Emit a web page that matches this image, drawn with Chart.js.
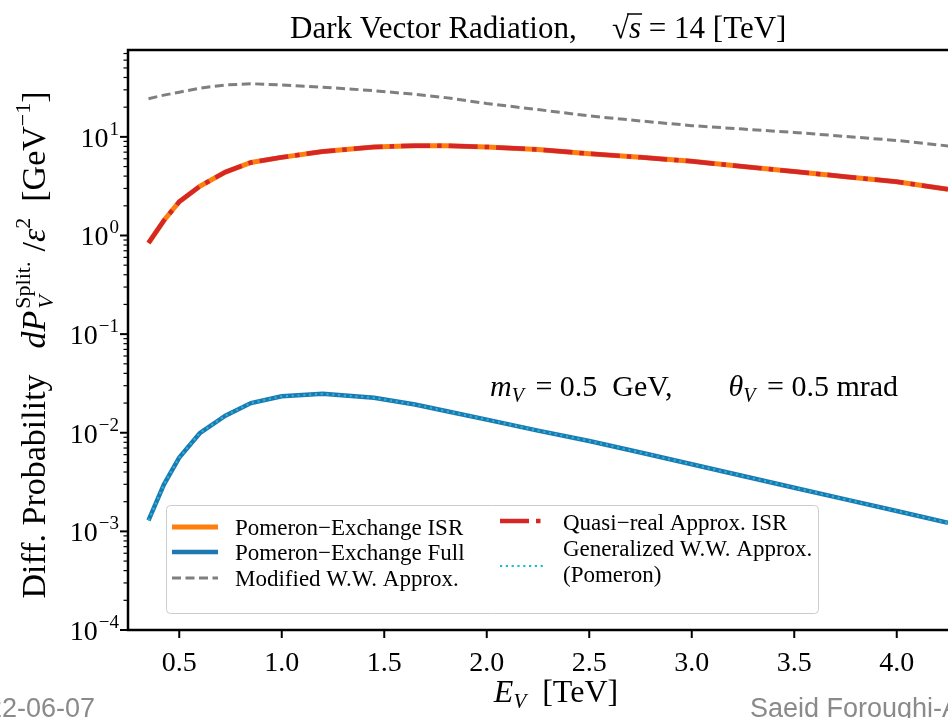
<!DOCTYPE html>
<html lang="en">
<head>
<meta charset="UTF-8">
<title>Dark Vector Radiation</title>
<script src="https://cdn.jsdelivr.net/npm/chart.js"></script>
<style>
  html, body { margin: 0; padding: 0; background: #fff; overflow: hidden; }
  #chart { display: block; }
</style>
</head>
<body>
<canvas id="chart" width="948" height="718"></canvas>
<script>
// E_V [TeV] where the curves have their vertices
const energies = [0.35, 0.425, 0.5, 0.6, 0.725, 0.85, 1.0, 1.2, 1.45, 1.65, 1.8, 2.0, 2.25, 2.5, 2.75, 3.0, 3.25, 3.5, 3.75, 4.0, 4.25];

// dP/eps^2 [GeV^-1]
const pomeronISR    = [0.84, 1.42, 2.2, 3.15, 4.4, 5.5, 6.2, 7.1, 7.9, 8.15, 8.15, 7.9, 7.45, 6.75, 6.2, 5.65, 5.0, 4.45, 3.95, 3.5, 2.95];
const quasiRealISR  = [0.84, 1.42, 2.2, 3.15, 4.4, 5.5, 6.2, 7.1, 7.9, 8.15, 8.15, 7.9, 7.45, 6.75, 6.2, 5.65, 5.0, 4.45, 3.95, 3.5, 2.95];
const pomeronFull   = [0.00129, 0.00298, 0.0056, 0.0099, 0.0149, 0.0200, 0.0234, 0.0248, 0.0226, 0.0193, 0.0166, 0.0136, 0.0105, 0.00826, 0.0063, 0.00479, 0.00364, 0.00277, 0.00211, 0.00161, 0.00122];
const generalizedWW = [0.00129, 0.00298, 0.0056, 0.0099, 0.0149, 0.0200, 0.0234, 0.0248, 0.0226, 0.0193, 0.0166, 0.0136, 0.0105, 0.00826, 0.0063, 0.00479, 0.00364, 0.00277, 0.00211, 0.00161, 0.00122];
const modifiedWW    = [24.4, 26.5, 28.4, 31.2, 33.6, 34.6, 33.6, 31.9, 29.4, 27.0, 25.0, 21.8, 18.9, 16.3, 14.5, 13.0, 12.0, 11.1, 10.1, 9.2, 8.1];

const xTicks = [0.5, 1.0, 1.5, 2.0, 2.5, 3.0, 3.5, 4.0];
const yExponents = [-4, -3, -2, -1, 0, 1];

const SERIF = "'Liberation Serif', 'DejaVu Serif', serif";
const SANS = "'Liberation Sans', Arial, sans-serif";

function pts(arr) {
  return energies.map((e, i) => ({ x: e, y: arr[i] }));
}

function runFont(r) {
  return (r.it ? 'italic ' : '') + r.s + 'px ' + SERIF;
}

// draws a row of text pieces (for sub/superscripts)
function drawRuns(ctx, runs, x, y, align) {
  let total = 0;
  runs.forEach(r => {
    ctx.font = runFont(r);
    r.w = ctx.measureText(r.t).width;
    total += (r.gap || 0) + (r.noAdv ? 0 : r.w);
  });
  let cx = align === 'center' ? x - total / 2 : align === 'right' ? x - total : x;
  ctx.textAlign = 'left';
  ctx.textBaseline = 'alphabetic';
  runs.forEach(r => {
    cx += r.gap || 0;
    ctx.font = runFont(r);
    ctx.fillText(r.t, cx, y + (r.dy || 0));
    if (r.over) {
      ctx.save();
      ctx.lineWidth = 1.5;
      ctx.beginPath();
      ctx.moveTo(cx - 2, y - r.over);
      ctx.lineTo(cx + r.w + 1, y - r.over);
      ctx.stroke();
      ctx.restore();
    }
    if (!r.noAdv) cx += r.w;
  });
}

const decor = {
  id: 'decor',
  afterDatasetsDraw(chart) {
    const ctx = chart.ctx;
    const xs = chart.scales.x, ys = chart.scales.y;
    const a = chart.chartArea;
    ctx.save();
    ctx.fillStyle = '#000';
    ctx.strokeStyle = '#000';

    // spines (left, top, bottom)
    ctx.lineWidth = 2.5;
    ctx.lineCap = 'square';
    ctx.beginPath();
    ctx.moveTo(a.right + 5, a.top);
    ctx.lineTo(a.left, a.top);
    ctx.lineTo(a.left, a.bottom);
    ctx.lineTo(a.right + 5, a.bottom);
    ctx.stroke();
    ctx.lineCap = 'butt';

    // y ticks: decades and minors
    yExponents.forEach(p => {
      for (let k = 1; k <= 9; k++) {
        const v = k * Math.pow(10, p);
        if (v > ys.max) break;
        const py = ys.getPixelForValue(v);
        ctx.lineWidth = k === 1 ? 2 : 1.2;
        ctx.beginPath();
        ctx.moveTo(a.left - (k === 1 ? 8 : 4.5), py);
        ctx.lineTo(a.left, py);
        ctx.stroke();
      }
      const py = ys.getPixelForValue(Math.pow(10, p));
      const ex = p < 0 ? '\u2212' + (-p) : String(p);
      drawRuns(ctx, [{ t: '10', s: 28 }, { t: ex, s: 19, dy: -12, gap: 1 }], 119, py + 10, 'right');
    });

    // x ticks
    xTicks.forEach(v => {
      const px = xs.getPixelForValue(v);
      ctx.lineWidth = 2;
      ctx.beginPath();
      ctx.moveTo(px, a.bottom);
      ctx.lineTo(px, a.bottom + 8);
      ctx.stroke();
      ctx.font = '28px ' + SERIF;
      ctx.textAlign = 'center';
      ctx.fillText(v.toFixed(1), px, 671);
    });

    // title
    drawRuns(ctx, [{ t: 'Dark Vector Radiation,', s: 31 }], 290, 38, 'left');
    drawRuns(ctx, [{ t: '\u221A', s: 31 }, { t: 's', s: 31, it: true, over: 24 }, { t: ' = 14 [TeV]', s: 31 }], 612, 38, 'left');

    // x-axis title
    drawRuns(ctx, [{ t: 'E', s: 32, it: true }, { t: 'V', s: 21, it: true, dy: 6 }, { t: '[TeV]', s: 32, gap: 16 }], 556, 702, 'center');

    // y-axis title
    ctx.save();
    ctx.translate(45, 345);
    ctx.rotate(-Math.PI / 2);
    drawRuns(ctx, [
      { t: 'Diff. Probability', s: 34 },
      { t: 'd', s: 34, it: true, gap: 26 },
      { t: 'P', s: 34, it: true },
      { t: 'V', s: 22, it: true, dy: 8, noAdv: true, gap: 2 },
      { t: 'Split.', s: 22, dy: -15 },
      { t: '/', s: 34, gap: 10 },
      { t: '\u03B5', s: 34, it: true },
      { t: '2', s: 22, dy: -15 },
      { t: '[GeV', s: 34, gap: 16 },
      { t: '\u22121', s: 22, dy: -15 },
      { t: ']', s: 34 }
    ], 0, 0, 'center');
    ctx.restore();

    // parameters note
    drawRuns(ctx, [
      { t: 'm', s: 30, it: true },
      { t: 'V', s: 20, it: true, dy: 6 },
      { t: ' = 0.5  GeV,', s: 30, gap: 4 },
      { t: '\u03B8', s: 30, it: true, gap: 56 },
      { t: 'V', s: 20, it: true, dy: 6 },
      { t: ' = 0.5 mrad', s: 30, gap: 4 }
    ], 490, 396, 'left');

    // legend
    const ds = chart.data.datasets;
    ctx.fillStyle = 'rgba(255,255,255,0.8)';
    ctx.strokeStyle = '#cccccc';
    ctx.lineWidth = 1;
    ctx.beginPath();
    ctx.roundRect(166.5, 505.5, 652, 108, 4);
    ctx.fill();
    ctx.stroke();
    const sample = (d, x, y) => {
      ctx.save();
      ctx.strokeStyle = d.borderColor;
      ctx.lineWidth = d.borderWidth;
      ctx.setLineDash(d.borderDash || []);
      ctx.beginPath();
      ctx.moveTo(x, y);
      ctx.lineTo(x + 46, y);
      ctx.stroke();
      ctx.restore();
    };
    const items = [
      { d: ds[0], x: 172, y: 527, lines: [ds[0].label], ty: 535 },
      { d: ds[1], x: 172, y: 552, lines: [ds[1].label], ty: 560 },
      { d: ds[2], x: 172, y: 578, lines: [ds[2].label], ty: 586 },
      { d: ds[3], x: 500, y: 521, lines: [ds[3].label], ty: 530 },
      { d: ds[4], x: 500, y: 566, lines: ds[4].label.split('\n'), ty: 556 }
    ];
    ctx.fillStyle = '#000';
    items.forEach(it => {
      sample(it.d, it.x, it.y);
      it.lines.forEach((ln, j) => {
        drawRuns(ctx, [{ t: ln, s: 23 }], it.x + 63, it.ty + j * 26, 'left');
      });
    });

    // slide footer (cut by the picture edges)
    ctx.fillStyle = '#8a8a8a';
    ctx.font = '27px ' + SANS;
    ctx.textAlign = 'right';
    ctx.fillText('2022-06-07', 95, 717);
    ctx.textAlign = 'left';
    ctx.fillText('Saeid Foroughi-Abari', 750, 717);
    ctx.restore();
  }
};

new Chart(document.getElementById('chart'), {
  type: 'line',
  data: {
    datasets: [
      { label: 'Pomeron\u2212Exchange ISR', data: pts(pomeronISR), borderColor: '#ff7f0e', borderWidth: 5, order: 2 },
      { label: 'Pomeron\u2212Exchange Full', data: pts(pomeronFull), borderColor: '#1f77b4', borderWidth: 4.5, order: 3 },
      { label: 'Modified W.W. Approx.', data: pts(modifiedWW), borderColor: '#7f7f7f', borderWidth: 3, borderDash: [9, 4.5], order: 4 },
      { label: 'Quasi\u2212real Approx. ISR', data: pts(quasiRealISR), borderColor: '#d62728', borderWidth: 4.5, borderDash: [29, 7, 4.5, 7], order: 0 },
      { label: 'Generalized W.W. Approx.\n(Pomeron)', data: pts(generalizedWW), borderColor: '#17becf', borderWidth: 2.2, borderDash: [2.2, 3.6], order: 1 }
    ]
  },
  options: {
    responsive: false,
    animation: false,
    elements: { point: { radius: 0 }, line: { tension: 0, fill: false } },
    layout: { padding: { left: 128, top: 50, right: 0, bottom: 88 } },
    plugins: { legend: { display: false }, tooltip: { enabled: false }, title: { display: false } },
    scales: {
      x: {
        type: 'linear', min: 0.25, max: 4.25,
        ticks: { display: false }, grid: { display: false }, border: { display: false },
        afterFit: s => { s.height = 0; }
      },
      y: {
        type: 'logarithmic', min: 1e-4, max: 76,
        ticks: { display: false }, grid: { display: false }, border: { display: false },
        afterFit: s => { s.width = 0; }
      }
    }
  },
  plugins: [decor]
});
</script>
</body>
</html>
